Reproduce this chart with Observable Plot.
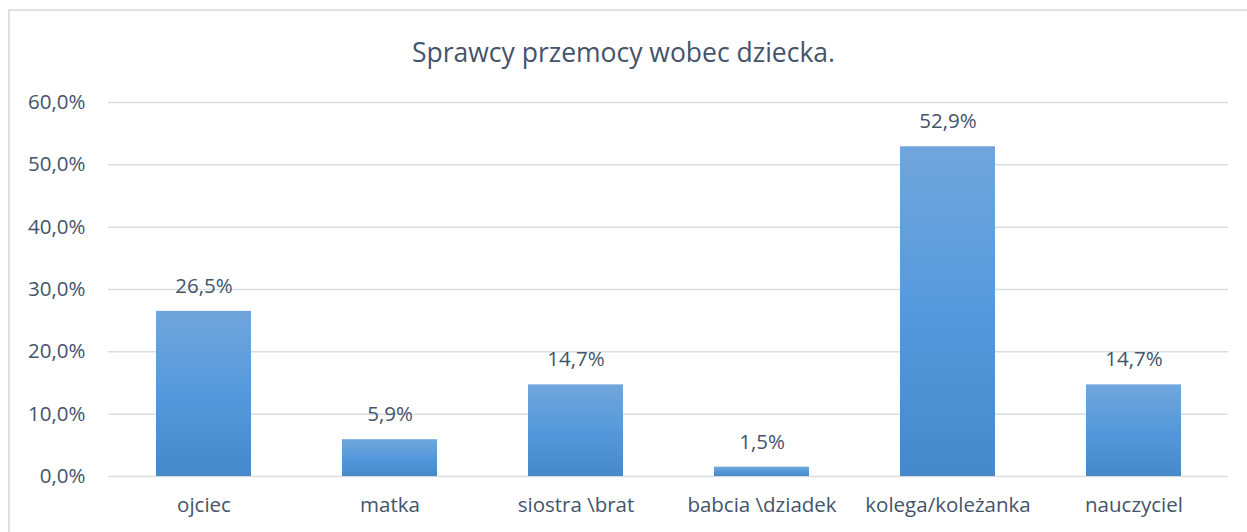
<!DOCTYPE html>
<html>
<head>
<meta charset="utf-8">
<script src="https://cdn.jsdelivr.net/npm/d3@7"></script>
<script src="https://cdn.jsdelivr.net/npm/@observablehq/plot@0.6"></script>
<style>
  html, body { margin: 0; padding: 0; background: #fff; }
  #wrap { position: relative; width: 1247px; height: 532px; overflow: hidden; font-family: "Open Sans", sans-serif; }
  #frame { position: absolute; left: 8px; top: 9px; width: 1300px; height: 560px; border: 2px solid #dde1e7; box-sizing: border-box; }
  #title { position: absolute; left: 0; width: 1247px; top: 34px; text-align: center; font-size: 26.5px; line-height: 36px; color: #44546a; }
  #chart { position: absolute; left: 0; top: 0; }
</style>
</head>
<body>
<div id="wrap">
  <div id="frame"></div>
  <div id="title">Sprawcy przemocy wobec dziecka.</div>
  <div id="chart"></div>
</div>
<script>
const categories = ["ojciec", "matka", "siostra \\brat", "babcia \\dziadek", "kolega/koleżanka", "nauczyciel"];
const values = [26.5, 5.9, 14.7, 1.5, 52.9, 14.7];
const yTicks = [0, 10, 20, 30, 40, 50, 60];

const data = categories.map((c, i) => ({ category: c, value: values[i] }));
const fmt = v => v.toFixed(1).replace(".", ",") + "%";
const textColor = "#44546a";
const fs = 20.5;

const plot = Plot.plot({
  width: 1247,
  height: 532,
  marginTop: 102,
  marginBottom: 56,
  marginLeft: 108,
  marginRight: 19,
  style: { fontFamily: "'Open Sans', sans-serif", fontSize: fs + "px", color: textColor, background: "transparent" },
  x: { domain: categories, paddingInner: 0.49, paddingOuter: 0.245, label: null },
  y: { domain: [0, 60], label: null },
  marks: [
    Plot.ruleY(yTicks, { stroke: "#d9dde3", strokeWidth: 1.5 }),
    Plot.barY(data, { x: "category", y: "value", fill: "url(#barGrad)" }),
    Plot.text(data, { x: "category", y: "value", text: d => fmt(d.value), dy: -25, fill: textColor, fontSize: fs }),
    Plot.axisY({ ticks: yTicks, tickFormat: fmt, tickSize: 0, tickPadding: 23, fontSize: fs, label: null }),
    Plot.axisX({ tickSize: 0, tickPadding: 21, fontSize: fs, label: null })
  ]
});

const svgNS = "http://www.w3.org/2000/svg";
const defs = document.createElementNS(svgNS, "defs");
const grad = document.createElementNS(svgNS, "linearGradient");
grad.setAttribute("id", "barGrad");
grad.setAttribute("x1", "0"); grad.setAttribute("y1", "0");
grad.setAttribute("x2", "0"); grad.setAttribute("y2", "1");
[["0%", "#71a6dc"], ["50%", "#5599dc"], ["100%", "#4689ca"]].forEach(([o, c]) => {
  const s = document.createElementNS(svgNS, "stop");
  s.setAttribute("offset", o); s.setAttribute("stop-color", c);
  grad.appendChild(s);
});
defs.appendChild(grad);
plot.insertBefore(defs, plot.firstChild);

document.getElementById("chart").appendChild(plot);
</script>
</body>
</html>
